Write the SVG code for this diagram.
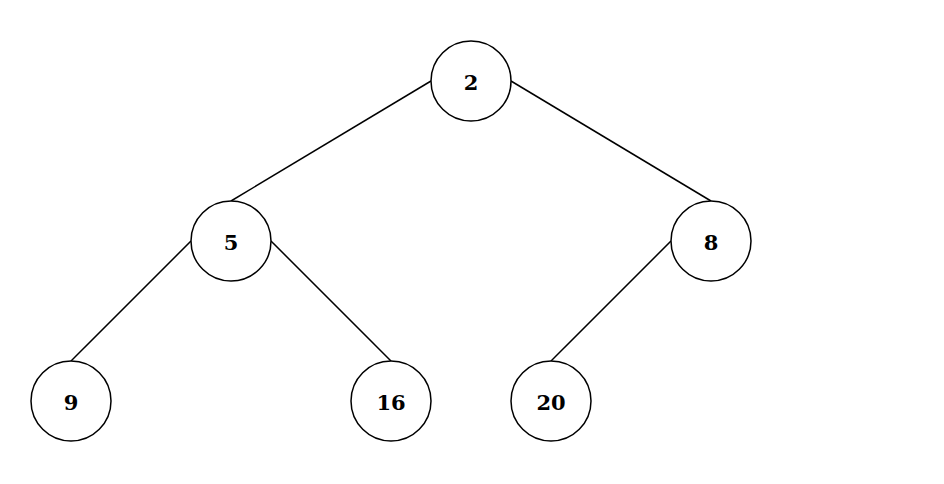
<svg xmlns="http://www.w3.org/2000/svg" width="944" height="484" viewBox="0 0 944 484">
<style>
.n circle{fill:#fff;stroke:#000;stroke-width:1.5}
.n text{font-family:"DejaVu Serif",serif;font-weight:bold;font-size:21px;text-anchor:middle;dominant-baseline:central;fill:#000}
#edges line{stroke:#000;stroke-width:1.5}
</style>
<rect width="944" height="484" fill="#fff"/>
<g id="edges">
<line x1="431" y1="81" x2="231" y2="201"/>
<line x1="511" y1="81" x2="711" y2="201"/>
<line x1="191" y1="241" x2="71" y2="361"/>
<line x1="271" y1="241" x2="391" y2="361"/>
<line x1="671" y1="241" x2="551" y2="361"/>
</g>
<g id="n2" class="n"><circle cx="471" cy="81" r="40"/><text x="471" y="82">2</text></g>
<g id="n5" class="n"><circle cx="231" cy="241" r="40"/><text x="231" y="242">5</text></g>
<g id="n8" class="n"><circle cx="711" cy="241" r="40"/><text x="711" y="242">8</text></g>
<g id="n9" class="n"><circle cx="71" cy="401" r="40"/><text x="71" y="402">9</text></g>
<g id="n16" class="n"><circle cx="391" cy="401" r="40"/><text x="391" y="402">16</text></g>
<g id="n20" class="n"><circle cx="551" cy="401" r="40"/><text x="551" y="402">20</text></g>
</svg>
